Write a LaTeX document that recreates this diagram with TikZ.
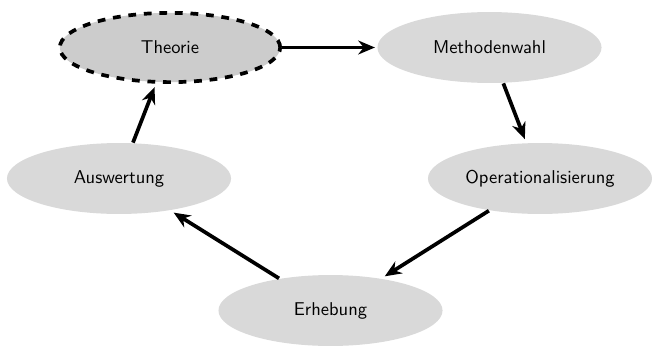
\documentclass[tikz,border=0pt]{standalone}
\usetikzlibrary{shapes.geometric,arrows.meta}

\tikzset{every picture/.style={line width=0.75pt}}
\tikzset{
  phase/.style={ellipse, fill=gray!30, inner sep=0pt, minimum width=121pt, minimum height=38.3pt, font=\sffamily},
  startphase/.style={phase, fill=gray!40, draw=black, line width=2pt, dash pattern={on 4.2pt off 4.2pt}, minimum width=119pt, minimum height=37.4pt},
  flow/.style={-{Stealth[length=9pt,width=7.5pt]}, line width=2pt, shorten >=2pt}
}

\begin{document}
\begin{tikzpicture}[x=0.54pt,y=0.54pt,yscale=-1,xscale=1]
%set diagram left start at 0, and has size of 652 x 346
\useasboundingbox (0,0) rectangle (652,346);

%Shape: Ellipse [Theorie]
\node [startphase] (theorie) at (170,47.5) {Theorie};
%Shape: Ellipse [Methodenwahl]
\node [phase] (methode) at (489.5,47.5) {Methodenwahl};
%Shape: Ellipse [Operationalisierung]
\node [phase] (operat) at (540,178.5) {Operationalisierung};
%Shape: Ellipse [Erhebung]
\node [phase] (erhebung) at (330.5,310.5) {Erhebung};
%Shape: Ellipse [Auswertung]
\node [phase] (auswertung) at (119,178.5) {Auswertung};

%Straight Lines
\draw [flow, shorten >=1pt] (theorie) -- (methode) ;
%Straight Lines
\draw [flow] (methode) -- (operat) ;
%Straight Lines
\draw [flow] (operat) -- (erhebung) ;
%Straight Lines
\draw [flow] (erhebung) -- (auswertung) ;
%Straight Lines
\draw [flow] (auswertung) -- (theorie) ;
\end{tikzpicture}
\end{document}
